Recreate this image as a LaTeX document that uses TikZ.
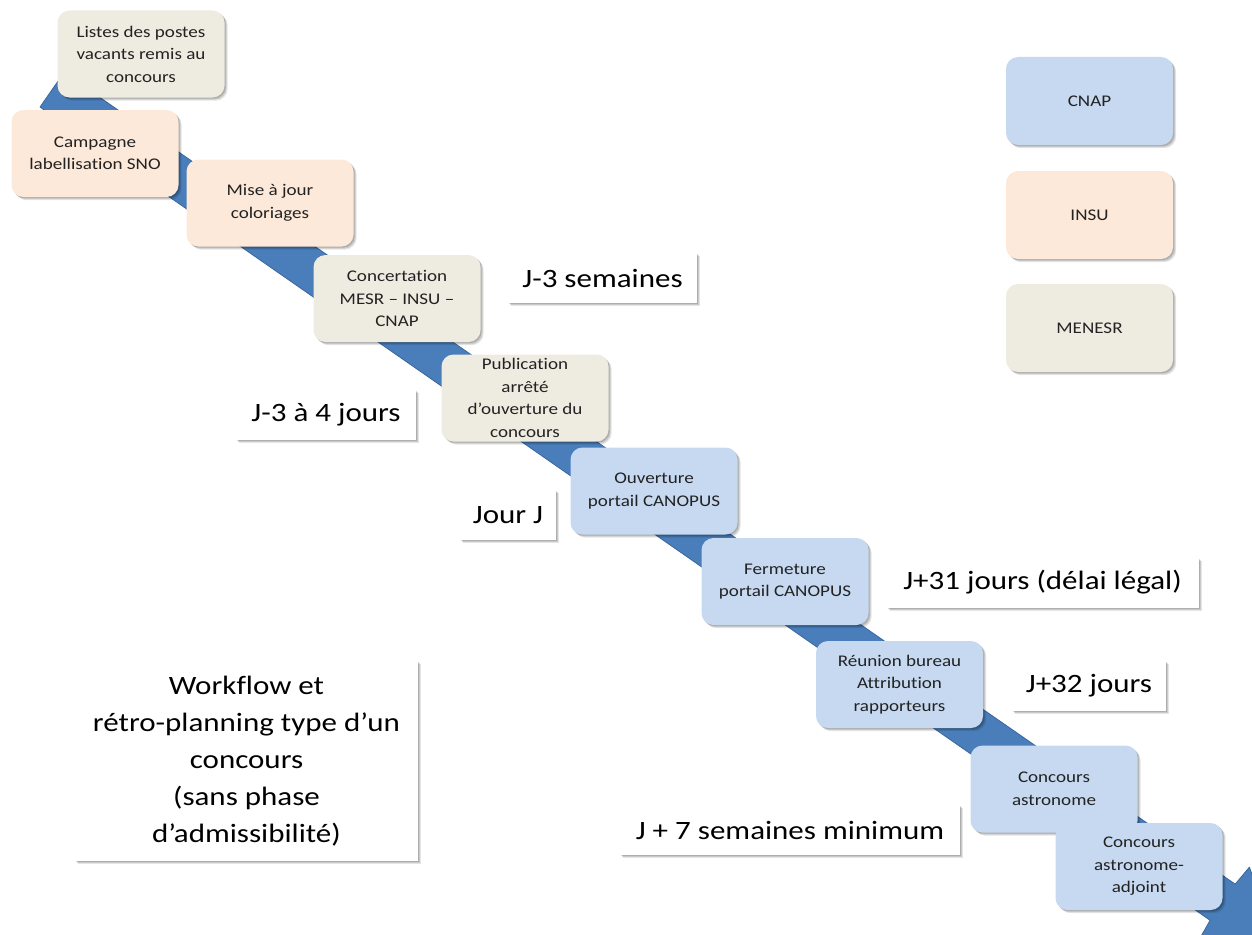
\documentclass[tikz,border=0pt]{standalone}
\usepackage{fontspec}
\setmainfont{Carlito}[FakeStretch=1.17, Ligatures=NoCommon]
\usetikzlibrary{shadows}
\definecolor{cnap}{HTML}{C6D9F1}
\definecolor{insu}{HTML}{FDE9D9}
\definecolor{menesr}{HTML}{EEECE1}
\definecolor{bandblue}{HTML}{4A7EBB}
\definecolor{bandedge}{HTML}{3A669C}
\definecolor{txt}{HTML}{222222}
\tikzset{
  softshadow/.style={
    drop shadow={shadow xshift=3.2pt, shadow yshift=-3.2pt, opacity=0.10, fill=black},
    drop shadow={shadow xshift=2.2pt, shadow yshift=-2.2pt, opacity=0.12, fill=black},
    drop shadow={shadow xshift=1.2pt, shadow yshift=-1.2pt, opacity=0.14, fill=black}},
  stepbox/.style={rounded corners=12pt, minimum width=167pt, minimum height=87pt,
    align=center, inner sep=2pt, text=txt,
    font=\fontsize{16.3}{22.5}\selectfont, softshadow},
  cnapbox/.style={stepbox, fill=cnap},
  insubox/.style={stepbox, fill=insu},
  menbox/.style={stepbox, fill=menesr},
  datebox/.style={fill=white, minimum height=50pt, inner sep=0pt, align=center, text=black,
    font=\fontsize{26.5}{30}\selectfont, softshadow},
  bandstyle/.style={fill=bandblue, draw=bandedge, line width=0.8pt, line join=round}
}
\begin{document}
\begin{tikzpicture}[x=1pt,y=-1pt]
\useasboundingbox (0,0) rectangle (1252,934);
\begin{scope}
\clip (0,0) rectangle (1252,934);
% timeline band arrow
\begin{scope}[shift={(52,89.8)}, rotate=-34.76]
\draw[bandstyle] (0,-21) -- (1425,-22) -- (1427,-44) -- (1490,0) -- (1427,44) -- (1425,22) -- (0,21) -- cycle;
\end{scope}
\end{scope}
% steps
\node[menbox] (listes) at (141,54) {Listes des postes\\vacants remis au\\concours};
\node[insubox] (campagne) at (95,153.5) {Campagne\\labellisation SNO};
\node[insubox] (mise) at (270,203) {Mise à jour\\coloriages};
\node[menbox] (concert) at (397,298.5) {Concertation\\MESR – INSU –\\CNAP};
\node[menbox] (publi) at (525,398) {Publication\\arrêté\\d’ouverture du\\concours};
\node[cnapbox] (ouvert) at (654,491) {Ouverture\\portail CANOPUS};
\node[cnapbox] (ferme) at (785,581.5) {Fermeture\\portail CANOPUS};
\node[cnapbox] (reunion) at (899.5,684.5) {Réunion bureau\\Attribution\\rapporteurs};
\node[cnapbox] (astro) at (1054,789) {Concours\\astronome};
\node[cnapbox] (adjoint) at (1139,866.5) {Concours\\astronome-\\adjoint};
% legend
\node[cnapbox, minimum height=88pt] (lcnap) at (1089.5,101) {CNAP};
\node[insubox, minimum height=88pt] (linsu) at (1089.5,215) {INSU};
\node[menbox, minimum height=88pt] (lmen) at (1089.5,328) {MENESR};
% date labels
\node[datebox, minimum width=189pt] (d1) at (602.5,278) {J-3 semaines};
\node[datebox, minimum width=180pt] (d2) at (326,415) {J-3 à 4 jours};
\node[datebox, minimum width=96pt] (d3) at (508,515) {Jour J};
\node[datebox, minimum width=312pt] (d4) at (1042.5,582.5) {J+31 jours (délai légal)};
\node[datebox, minimum width=154pt] (d5) at (1089,686) {J+32 jours};
\node[datebox, minimum width=340pt] (d6) at (790,830) {J + 7 semaines minimum};
% title
\node[datebox, minimum width=343pt, minimum height=200pt, font=\fontsize{26.5}{37}\selectfont] (title) at (246.5,761)
  {Workflow et\\rétro-planning type d’un\\concours\\(sans phase\\d’admissibilité)};
\end{tikzpicture}
\end{document}
